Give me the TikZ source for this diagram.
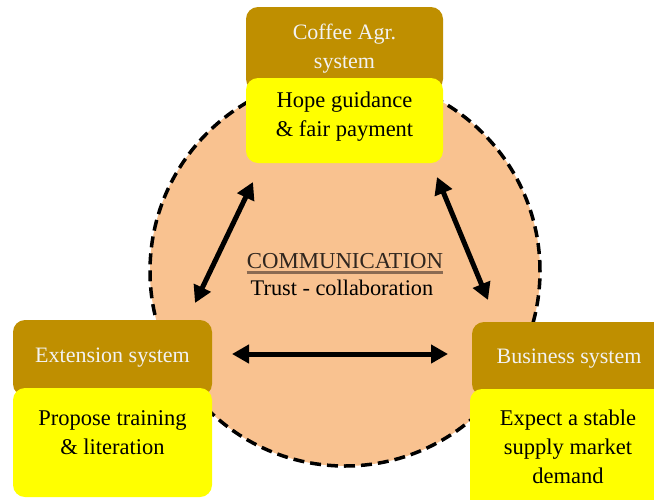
\documentclass[tikz,border=0pt]{standalone}
\usepackage{fontspec}
\setmainfont{Liberation Serif}
\usetikzlibrary{arrows.meta}
\definecolor{peach}{HTML}{F9C290}
\definecolor{ochre}{HTML}{BF8F00}
\definecolor{lemon}{HTML}{FFFF00}
\definecolor{paletext}{HTML}{F2F2F2}
\definecolor{shadowc}{HTML}{8A6A52}
\definecolor{commtext}{HTML}{30261F}
\begin{document}
\begin{tikzpicture}[x=1pt,y=-1pt,
  header/.style={fill=ochre, rounded corners=12pt, inner sep=0pt,
    text=paletext, align=center, font=\fontsize{22}{29}\selectfont},
  note/.style={fill=lemon, rounded corners=12pt, inner sep=0pt},
  notetext/.style={align=center, inner sep=0pt, font=\fontsize{22.5}{28.8}\selectfont},
  biarrow/.style={line width=5pt, {Triangle[length=17pt,width=18pt]}-{Triangle[length=17pt,width=18pt]}}]
\clip (0,0) rectangle (654,499);
\fill[white] (0,0) rectangle (654,499);

% shared communication space
\draw[fill=peach, line width=3.5pt, dash pattern=on 11pt off 6pt] (345,271) circle[radius=195pt];

% Coffee agriculture system
\node[header, minimum width=197pt, minimum height=84pt] (coffee) at (344.5,49) {Coffee Agr.\\system};
\node[note, minimum width=197pt, minimum height=85pt] (hope) at (344.5,120.5) {};
\node[notetext] (hopetxt) at (344.5,117) {Hope guidance\\\& fair payment};

% Extension system
\node[header, minimum width=199pt, minimum height=76pt] (ext) at (112.5,358) {Extension system};
\node[note, minimum width=199pt, minimum height=109pt] (prop) at (112.5,442.5) {};
\node[notetext] (proptxt) at (112.5,432.5) {Propose training\\\& literation};

% Business system
\node[header, minimum width=194pt, minimum height=74pt] (bus) at (569,359) {Business system};
\node[note, minimum width=196pt, minimum height=122pt] (exp) at (568,450) {};
\node[notetext] (exptxt) at (568,446.5) {Expect a stable\\supply market\\demand};

% central label with a soft underline
\node[text=commtext, font=\fontsize{22.8}{26}\selectfont, inner sep=0pt] (comm) at (345,261) {COMMUNICATION};
\draw[shadowc, line width=3pt] ([yshift=-3.5pt]comm.south west) -- ([yshift=-3.5pt]comm.south east);
\node[font=\fontsize{22.3}{26}\selectfont, inner sep=0pt] (trust) at (342,288) {Trust - collaboration};

% exchange arrows
\coordinate (l1) at (253,182);
\coordinate (l2) at (195,303);
\coordinate (r1) at (437,177);
\coordinate (r2) at (488,300);
\coordinate (h1) at (232,354);
\coordinate (h2) at (448,354);
\draw[biarrow] (l1) -- (l2);
\draw[biarrow] (r1) -- (r2);
\draw[biarrow] (h1) -- (h2);
\end{tikzpicture}
\end{document}
